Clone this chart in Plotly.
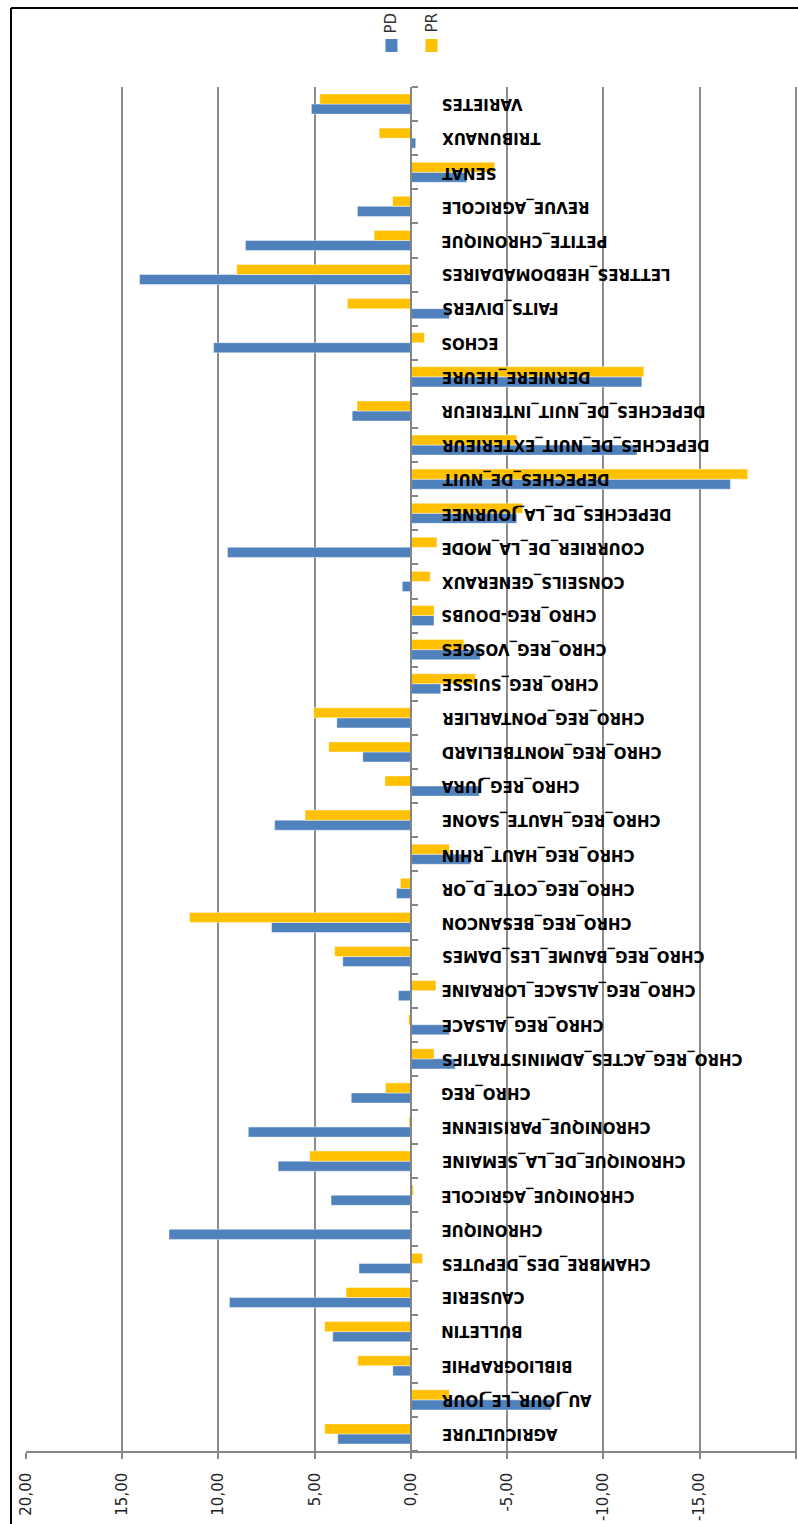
import plotly.graph_objects as go

categories = [
    "AGRICULTURE", "AU_JOUR_LE_JOUR", "BIBLIOGRAPHIE", "BULLETIN", "CAUSERIE",
    "CHAMBRE_DES_DEPUTES", "CHRONIQUE", "CHRONIQUE_AGRICOLE", "CHRONIQUE_DE_LA_SEMAINE",
    "CHRONIQUE_PARISIENNE", "CHRO_REG", "CHRO_REG_ACTES_ADMINISTRATIFS", "CHRO_REG_ALSACE",
    "CHRO_REG_ALSACE_LORRAINE", "CHRO_REG_BAUME_LES_DAMES", "CHRO_REG_BESANCON",
    "CHRO_REG_COTE_D_OR", "CHRO_REG_HAUT_RHIN", "CHRO_REG_HAUTE_SAONE", "CHRO_REG_JURA",
    "CHRO_REG_MONTBELIARD", "CHRO_REG_PONTARLIER", "CHRO_REG_SUISSE", "CHRO_REG_VOSGES",
    "CHRO_REG-DOUBS", "CONSEILS_GENERAUX", "COURRIER_DE_LA_MODE", "DEPECHES_DE_LA_JOURNEE",
    "DEPECHES_DE_NUIT", "DEPECHES_DE_NUIT_EXTERIEUR", "DEPECHES_DE_NUIT_INTERIEUR",
    "DERNIERE_HEURE", "ECHOS", "FAITS_DIVERS", "LETTRES_HEBDOMADAIRES", "PETITE_CHRONIQUE",
    "REVUE_AGRICOLE", "SENAT", "TRIBUNAUX", "VARIETES",
]

pd_values = [
    3.8, -7.3, 0.94, 4.06, 9.43, 2.7, 12.57, 4.15, 6.9, 8.45,
    3.1, -2.3, -2.0, 0.65, 3.54, 7.24, 0.75, -3.1, 7.08, -3.55,
    2.5, 3.85, -1.55, -3.6, -1.2, 0.45, 9.53, -5.5, -16.6, -11.75,
    3.05, -12.0, 10.25, -2.0, 14.1, 8.6, 2.78, -2.9, -0.25, 5.17,
]

pr_values = [
    4.48, -2.0, 2.76, 4.48, 3.37, -0.6, 0.0, -0.12, 5.26, 0.1,
    1.32, -1.2, 0.12, -1.3, 3.96, 11.5, 0.55, -2.0, 5.5, 1.35,
    4.27, 5.05, -3.35, -2.75, -1.2, -1.0, -1.35, -5.8, -17.5, -5.5,
    2.8, -12.1, -0.7, 3.3, 9.05, 1.91, 0.95, -4.35, 1.65, 4.74,
]

series_names = ["PD", "PR"]
series_colors = ["#4F81BD", "#FFC000"]

tick_values = [20, 15, 10, 5, 0, -5, -10, -15, -20]
tick_labels = ["20,00", "15,00", "10,00", "5,00", "0,00", "-5,00", "-10,00", "-15,00", "-20,00"]

FONT = "DejaVu Sans"
LABEL_X = -1.5

fig = go.Figure()
for name, vals, col in zip(series_names, [pd_values, pr_values], series_colors):
    fig.add_trace(go.Bar(
        y=categories, x=vals, name=name, orientation="h",
        marker=dict(color=col, line=dict(color="rgba(255,255,255,0.7)", width=0.6)),
        showlegend=False,
    ))

annotations = []
for c in categories:
    annotations.append(dict(
        x=LABEL_X, y=c, xref="x", yref="y", text=c, showarrow=False,
        textangle=180, xanchor="left", yanchor="middle",
        font=dict(family=FONT, size=15, color="#000000", weight="bold"),
    ))

# legend (rotated text) drawn manually
legend_x = [0.474, 0.526]
shapes = []
for name, col, lx in zip(series_names, series_colors, legend_x):
    annotations.append(dict(
        x=lx, y=1.0, xref="paper", yref="paper", yshift=64, text=name,
        showarrow=False, textangle=-90, xanchor="center", yanchor="middle",
        font=dict(family=FONT, size=15, color="#333333"),
    ))
    shapes.append(dict(
        type="rect", xref="paper", yref="paper",
        x0=lx - 0.0078, x1=lx + 0.0078, y0=1.0 + 35 / 1364, y1=1.0 + 48 / 1364,
        fillcolor=col, line=dict(width=0),
    ))

# chart frame (left and top edges)
shapes.append(dict(type="line", xref="paper", yref="paper",
                   x0=-15 / 770, x1=-15 / 770, y0=-73 / 1364, y1=1 + 79 / 1364,
                   line=dict(color="#000000", width=2)))
shapes.append(dict(type="line", xref="paper", yref="paper",
                   x0=-15 / 770, x1=1.01, y0=1 + 79 / 1364, y1=1 + 79 / 1364,
                   line=dict(color="#000000", width=2)))

fig.update_layout(
    width=798, height=1524,
    margin=dict(l=26, r=1, t=87, b=73, autoexpand=False),
    paper_bgcolor="white", plot_bgcolor="white",
    barmode="group", bargap=0.41, bargroupgap=0.0,
    annotations=annotations, shapes=shapes,
    xaxis=dict(
        range=[20, -20.06], tickvals=tick_values, ticktext=tick_labels,
        tickangle=-90, ticks="outside", ticklen=6, tickcolor="#868686", tickwidth=1.5,
        showline=True, linecolor="#868686", linewidth=1.5,
        showgrid=True, gridcolor="#8c8c8c", gridwidth=1.5, zeroline=False,
        tickfont=dict(family=FONT, size=15, color="#222222"),
        ticklabelstandoff=8, automargin=False,
    ),
    yaxis=dict(
        type="category", categoryorder="array", categoryarray=categories,
        anchor="free", position=20 / 40.06, side="right",
        showticklabels=False, ticks="outside", ticklen=6, tickcolor="#868686", tickwidth=1.5,
        tickson="boundaries", showline=True, linecolor="#868686", linewidth=1.5,
        showgrid=False, zeroline=False, automargin=False,
    ),
)

fig.write_html(
    "out.html",
    config={"displayModeBar": False},
    post_script="document.body.style.margin='0';document.body.style.overflow='hidden';",
)
